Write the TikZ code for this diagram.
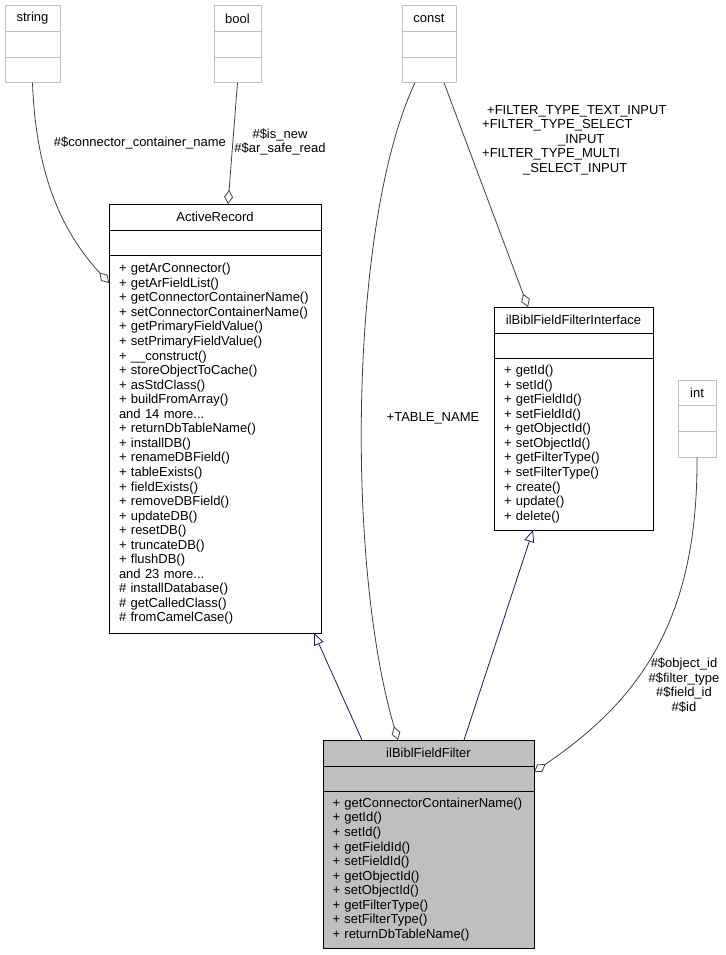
\documentclass[tikz,border=0pt]{standalone}
\usepackage{fontspec}
\setmainfont{Liberation Sans}
\usetikzlibrary{arrows.meta,positioning,calc}

\definecolor{boxgray}{HTML}{BFBFBF}
\definecolor{edgegray}{HTML}{404040}
\definecolor{inhblue}{HTML}{191970}

\begin{document}
\begin{tikzpicture}[x=1pt,y=-1pt,node distance=0pt,
    font=\fontsize{13}{14.55}\selectfont,
    classbox/.style={draw, rectangle, line width=0.8pt, inner sep=0pt, outer sep=0pt},
    typebox/.style={draw=boxgray, rectangle, line width=0.8pt, inner sep=0pt, outer sep=0pt, minimum height=25.7pt},
    opsbox/.style={classbox, align=left, inner xsep=10pt},
    aggr/.style={edgegray, line width=0.8pt, -{Diamond[fill=white, length=14pt, width=9pt]}},
    inherit/.style={inhblue, line width=0.8pt, -{Triangle[open, length=12pt, width=10pt]}},
    lbl/.style={inner sep=0pt, align=center}]
    \useasboundingbox (0,0) rectangle (725,955);

    % plain types
    \node[typebox, minimum width=55pt] (stringtitle) at (32.5,18.5) {string};
    \node[typebox, minimum width=55pt, below=of stringtitle] (stringattr) {};
    \node[typebox, minimum width=55pt, below=of stringattr] (stringops) {};

    \node[typebox, minimum width=47pt] (booltitle) at (237.5,18.5) {bool};
    \node[typebox, minimum width=47pt, below=of booltitle] (boolattr) {};
    \node[typebox, minimum width=47pt, below=of boolattr] (boolops) {};

    \node[typebox, minimum width=54pt] (consttitle) at (429,18.5) {const};
    \node[typebox, minimum width=54pt, below=of consttitle] (constattr) {};
    \node[typebox, minimum width=54pt, below=of constattr] (constops) {};

    \node[typebox, minimum width=38pt] (inttitle) at (697,393) {int};
    \node[typebox, minimum width=38pt, below=of inttitle] (intattr) {};
    \node[typebox, minimum width=38pt, below=of intattr] (intops) {};

    % ActiveRecord
    \node[classbox, minimum width=212pt, minimum height=26pt] (artitle) at (215,217) {ActiveRecord};
    \node[classbox, minimum width=212pt, minimum height=25pt, below=of artitle] (arattr) {};
    \node[opsbox, text width=192pt, minimum height=378pt, below=of arattr] (arops) {%
        + getArConnector()\\
        + getArFieldList()\\
        + getConnectorContainerName()\\
        + setConnectorContainerName()\\
        + getPrimaryFieldValue()\\
        + setPrimaryFieldValue()\\
        + \_\_construct()\\
        + storeObjectToCache()\\
        + asStdClass()\\
        + buildFromArray()\\
        and 14 more...\\
        + returnDbTableName()\\
        + installDB()\\
        + renameDBField()\\
        + tableExists()\\
        + fieldExists()\\
        + removeDBField()\\
        + updateDB()\\
        + resetDB()\\
        + truncateDB()\\
        + flushDB()\\
        and 23 more...\\
        \# installDatabase()\\
        \# getCalledClass()\\
        \# fromCamelCase()};

    % ilBiblFieldFilterInterface
    \node[classbox, minimum width=159pt, minimum height=26pt] (iftitle) at (573.5,320) {ilBiblFieldFilterInterface};
    \node[classbox, minimum width=159pt, minimum height=25pt, below=of iftitle] (ifattr) {};
    \node[opsbox, text width=139pt, minimum height=172pt, below=of ifattr] (ifops) {%
        + getId()\\
        + setId()\\
        + getFieldId()\\
        + setFieldId()\\
        + getObjectId()\\
        + setObjectId()\\
        + getFilterType()\\
        + setFilterType()\\
        + create()\\
        + update()\\
        + delete()};

    % ilBiblFieldFilter
    \node[classbox, fill=boxgray, minimum width=211pt, minimum height=26pt] (filtertitle) at (428.5,753) {ilBiblFieldFilter};
    \node[classbox, fill=boxgray, minimum width=211pt, minimum height=25pt, below=of filtertitle] (filterattr) {};
    \node[opsbox, fill=boxgray, inner xsep=9.5pt, text width=192pt, minimum height=157pt, below=of filterattr] (filterops) {%
        + getConnectorContainerName()\\
        + getId()\\
        + setId()\\
        + getFieldId()\\
        + setFieldId()\\
        + getObjectId()\\
        + setObjectId()\\
        + getFilterType()\\
        + setFilterType()\\
        + returnDbTableName()};

    % inheritance
    \draw[inherit] ([xshift=-66.5pt]filtertitle.north) -- ([xshift=99pt]arops.south);
    \draw[inherit] ([xshift=35.5pt]filtertitle.north) -- ([xshift=-40.5pt]ifops.south);

    % members
    \draw[aggr] (stringops.south) .. controls (36,180) and (65,235) .. ([yshift=-28pt]arops.north west);
    \draw[aggr] (boolops.south) -- ([xshift=13pt]artitle.north);
    \draw[aggr] ([xshift=-14pt]constops.south) .. controls (350,220) and (345,560) .. ([xshift=-30.5pt]filtertitle.north);
    \draw[aggr] ([xshift=15pt]constops.south) -- ([xshift=-45.5pt]iftitle.north);
    \draw[aggr] (intops.south) .. controls (698,620) and (640,700) .. ([yshift=-6pt]filterattr.north east);

    % member labels
    \node[lbl] (connlbl) at (140,143) {\#\$connector\_container\_name};
    \node[lbl] (boollbl) at (280,142) {\#\$is\_new\\\#\$ar\_safe\_read};
    \node[lbl] (tablelbl) at (433,418) {+TABLE\_NAME};
    \node[lbl, align=left, anchor=north west] (typelbl) at (482,105) {%
        \hspace*{5pt}+FILTER\_TYPE\_TEXT\_INPUT\\
        +FILTER\_TYPE\_SELECT\\
        \hspace*{76pt}\_INPUT\\
        +FILTER\_TYPE\_MULTI\\
        \hspace*{41pt}\_SELECT\_INPUT};
    \node[lbl] (intlbl) at (684,685) {\#\$object\_id\\\#\$filter\_type\\\#\$field\_id\\\#\$id};
\end{tikzpicture}
\end{document}
